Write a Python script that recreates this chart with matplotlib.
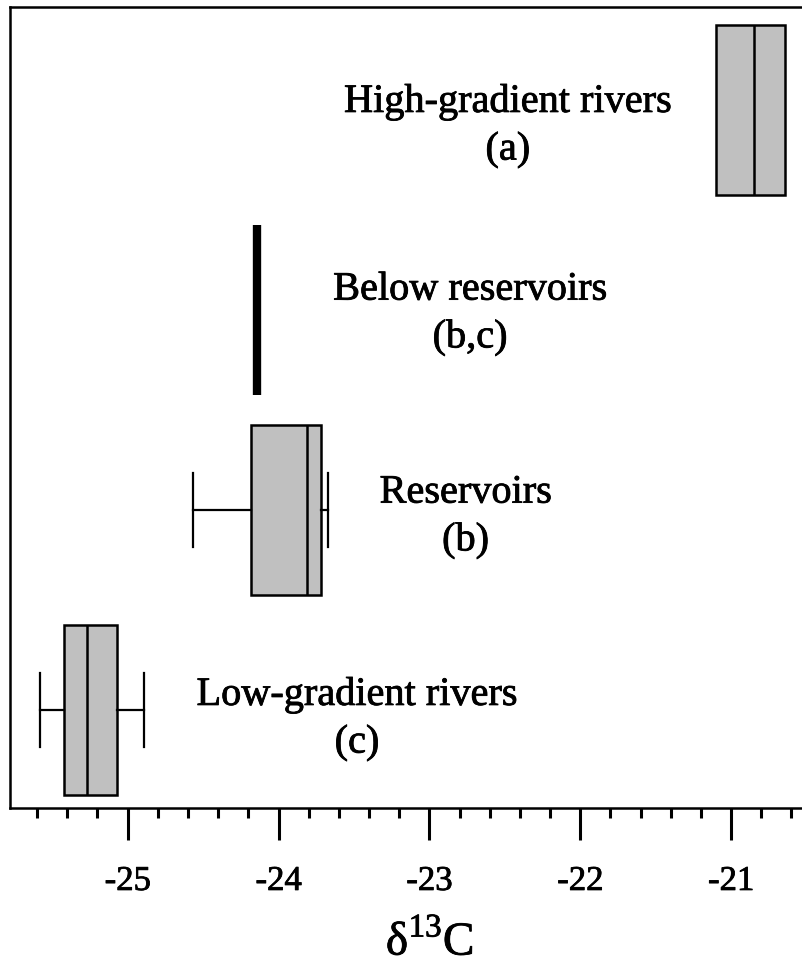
import matplotlib
matplotlib.use("Agg")
import matplotlib.pyplot as plt
import matplotlib.patheffects as pe
from matplotlib.ticker import MultipleLocator

plt.rcParams["font.family"] = ["Liberation Serif", "DejaVu Serif"]
plt.rcParams["axes.unicode_minus"] = False

# delta13C summary per site group, bottom to top
groups = ["Low-gradient rivers\n(c)", "Reservoirs\n(b)",
          "Below reservoirs\n(b,c)", "High-gradient rivers\n(a)"]
whislo = [-25.58, -24.57, -24.14, -21.10]
q1 = [-25.42, -24.18, -24.14, -21.10]
med = [-25.27, -23.81, -24.14, -20.85]
q3 = [-25.07, -23.72, -24.14, -20.64]
whishi = [-24.89, -23.67, -24.14, -20.64]
label_x = [-23.48, -22.76, -22.73, -22.48]
label_dy = [-0.045, -0.035, -0.02, -0.08]

stats = []
for i in range(len(groups)):
    stats.append(dict(whislo=whislo[i], q1=q1[i], med=med[i], q3=q3[i],
                      whishi=whishi[i], fliers=[], label=groups[i]))

fig = plt.figure(figsize=(8.02, 9.67), dpi=100)
ax = fig.add_axes([10 / 802, 1 - 808 / 967, 1 - 10 / 802, 801 / 967])

pos = [1, 2, 3, 4]
bp = ax.bxp(stats, positions=pos, vert=False, widths=0.85, patch_artist=True,
            showcaps=True, capwidths=0.37,
            boxprops=dict(facecolor="#c0c0c0", edgecolor="black", linewidth=1.8),
            medianprops=dict(color="black", linewidth=1.8),
            whiskerprops=dict(color="black", linewidth=1.6),
            capprops=dict(color="black", linewidth=1.6))

# the below-reservoir group collapses to a single value
bp["medians"][2].set_linewidth(6)
bp["boxes"][2].set_linewidth(0)
bp["whiskers"][4].set_visible(False)
bp["whiskers"][5].set_visible(False)
bp["caps"][4].set_visible(False)
bp["caps"][5].set_visible(False)
# no whiskers drawn for the high-gradient rivers
bp["caps"][6].set_visible(False)
bp["caps"][7].set_visible(False)

heavy = [pe.withStroke(linewidth=0.6, foreground="black")]
for i in range(len(groups)):
    ax.text(label_x[i], pos[i] + label_dy[i], groups[i], ha="center",
            va="center", fontsize=29, linespacing=1.38, path_effects=heavy)

ax.set_xlim(-25.78, -20.53)
ax.set_ylim(0.51, 4.515)
ax.set_yticks([])
ax.xaxis.set_major_locator(MultipleLocator(1))
ax.xaxis.set_minor_locator(MultipleLocator(0.2))
ax.tick_params(axis="x", which="major", length=23, width=2.2, labelsize=25, pad=18)
ax.tick_params(axis="x", which="minor", length=7, width=2.2)
for lbl in ax.get_xticklabels():
    lbl.set_path_effects(heavy)
ax.spines["right"].set_visible(False)
for s in ["left", "bottom", "top"]:
    ax.spines[s].set_linewidth(1.8)

ax.set_xlabel("δ$^{\\mathregular{13}}$C", fontsize=34, path_effects=heavy)
ax.xaxis.set_label_coords(0.530, -0.141)

fig.savefig("out.png", dpi=100)
